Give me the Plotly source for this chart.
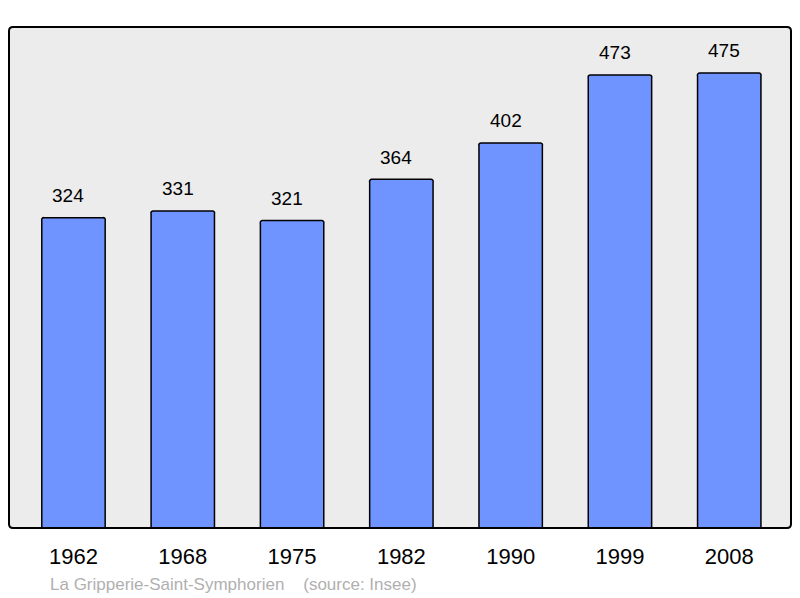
import plotly.graph_objects as go

years = ["1962", "1968", "1975", "1982", "1990", "1999", "2008"]
population = [324, 331, 321, 364, 402, 473, 475]
source_text = "La Gripperie-Saint-Symphorien    (source: Insee)"

W, H = 800, 598
L, R, T, B = 9, 9, 27, 70
pw, ph = W - L - R, H - T - B

fig = go.Figure()
fig.add_trace(go.Bar(
    x=list(range(len(years))), y=population,
    width=0.58,
    marker=dict(color="#7094ff", line=dict(color="#000000", width=1.5), cornerradius=3),
    hoverinfo="skip",
))

for i, v in enumerate(population):
    fig.add_annotation(x=i, y=v, text=str(v), showarrow=False, yshift=22, xshift=-5,
                       font=dict(family="Liberation Sans, Arial", size=19, color="#000"))

# rounded border of plot area
rx, ry = 4 / pw, 4 / ph
path = (f"M {rx},0 L {1-rx},0 Q 1,0 1,{ry} L 1,{1-ry} Q 1,1 {1-rx},1 "
        f"L {rx},1 Q 0,1 0,{1-ry} L 0,{ry} Q 0,0 {rx},0 Z")
fig.add_shape(type="path", xref="paper", yref="paper", path=path,
              line=dict(color="#000", width=2), layer="above")

fig.add_annotation(x=(48 - L) / pw, y=(H - B - 584) / ph, xref="paper", yref="paper",
                   text=source_text, showarrow=False, xanchor="left", yanchor="middle",
                   font=dict(family="Liberation Sans, Arial", size=17, color="#b0b0b0"))

fig.update_layout(
    width=W, height=H,
    margin=dict(l=L, r=R, t=T, b=B, pad=0),
    paper_bgcolor="#ffffff", plot_bgcolor="#ececec",
    showlegend=False,
    bargap=0,
    xaxis=dict(range=[-0.59, 6.565], tickvals=list(range(len(years))), ticktext=years,
               showgrid=False, zeroline=False, ticks="", ticklen=0, ticklabelstandoff=13,
               tickfont=dict(family="Liberation Sans, Arial", size=22, color="#000")),
    yaxis=dict(range=[0, 523], showgrid=False, zeroline=False, showticklabels=False),
)

fig.write_html("out.html", config={"displayModeBar": False, "staticPlot": True},
               post_script="document.body.style.margin='0';document.body.style.overflow='hidden';")
